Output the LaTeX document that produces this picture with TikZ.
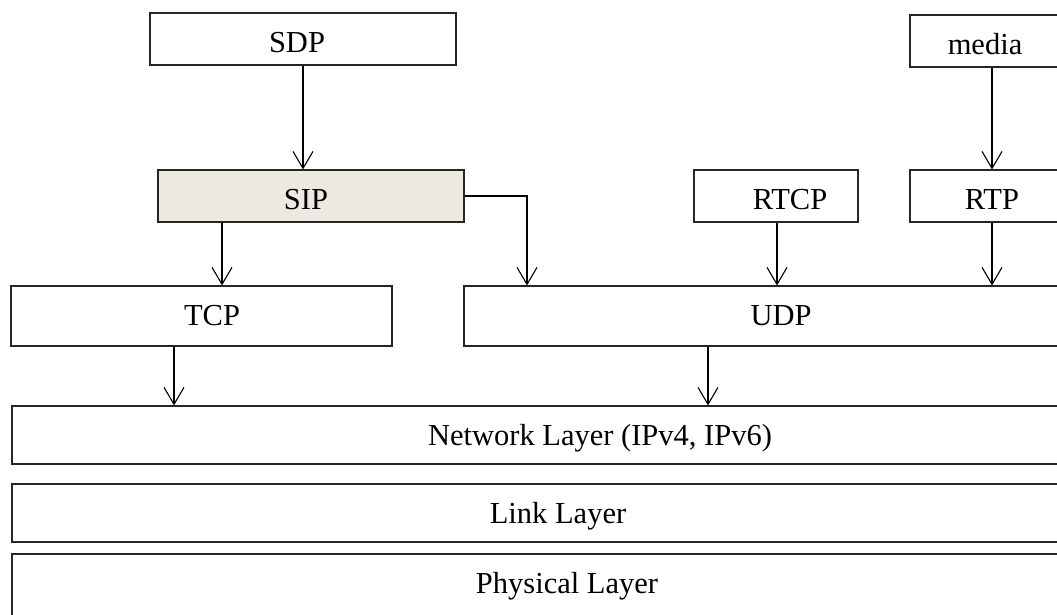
\documentclass[tikz,border=0pt]{standalone}
\usepackage{fontspec}
\setmainfont{Liberation Serif}
\usetikzlibrary{arrows.meta,calc}
\begin{document}
\begin{tikzpicture}[x=1pt,y=-1pt,
  box/.style={draw=black!85, line width=1.1pt, inner sep=0pt, minimum height=#1},
  box/.default=52pt,
  txt/.style={inner sep=0pt, anchor=base, font=\fontsize{30.5}{34}\selectfont},
  arr/.style={draw=black, line width=1.1pt, -{Straight Barb[length=17pt,width=20pt,line width=1.1pt]}}]
\clip (0,0) rectangle (1057,614);
\fill[white] (0,0) rectangle (1057,614);
% boxes
\node[box, minimum width=306pt] (sdp) at (303,39) {};
\node[box, minimum width=306pt, fill={rgb,255:red,236;green,234;blue,224}] (sip) at (311,196) {};
\node[box, minimum width=150pt] (media) at (985,41) {};
\node[box, minimum width=164pt] (rtcp) at (776,196) {};
\node[box, minimum width=164pt] (rtp) at (992,196) {};
\node[box=60pt, minimum width=381pt] (tcp) at (201.5,316) {};
\node[box=60pt, minimum width=634pt] (udp) at (781,316) {};
\node[box=58pt, minimum width=1168pt] (net) at (596,435) {};
\node[box=58pt, minimum width=1094pt] (link) at (559,513) {};
\node[box=66pt, minimum width=1110pt] (phys) at (567,587) {};
% texts
\node[txt] (sdpt) at (297,52) {SDP};
\node[txt] (sipt) at (306,209) {SIP};
\node[txt] (mediat) at (985,54) {media};
\node[txt] (rtcpt) at (790,209) {RTCP};
\node[txt] (rtpt) at (992,209) {RTP};
\node[txt] (tcpt) at (212,325) {TCP};
\node[txt] (udpt) at (781,325) {UDP};
\node[txt] (nett) at (600,445) {Network Layer (IPv4, IPv6)};
\node[txt] (linkt) at (558,523) {Link Layer};
\node[txt] (physt) at (567,593) {Physical Layer};
% x positions of connectors
\coordinate (xa) at (303,0);
\coordinate (xb) at (222,0);
\coordinate (xc) at (527,0);
\coordinate (xd) at (777,0);
\coordinate (xe) at (992,0);
\coordinate (xf) at (174,0);
\coordinate (xg) at (708,0);
% connectors
\draw[arr] (sdp.south -| xa) -- (sip.north -| xa);
\draw[arr] (sip.south -| xb) -- (tcp.north -| xb);
\draw[arr] (sip.east) -| (udp.north -| xc);
\draw[arr] (rtcp.south -| xd) -- (udp.north -| xd);
\draw[arr] (media.south -| xe) -- (rtp.north -| xe);
\draw[arr] (rtp.south -| xe) -- (udp.north -| xe);
\draw[arr] (tcp.south -| xf) -- (net.north -| xf);
\draw[arr] (udp.south -| xg) -- (net.north -| xg);
\end{tikzpicture}
\end{document}
